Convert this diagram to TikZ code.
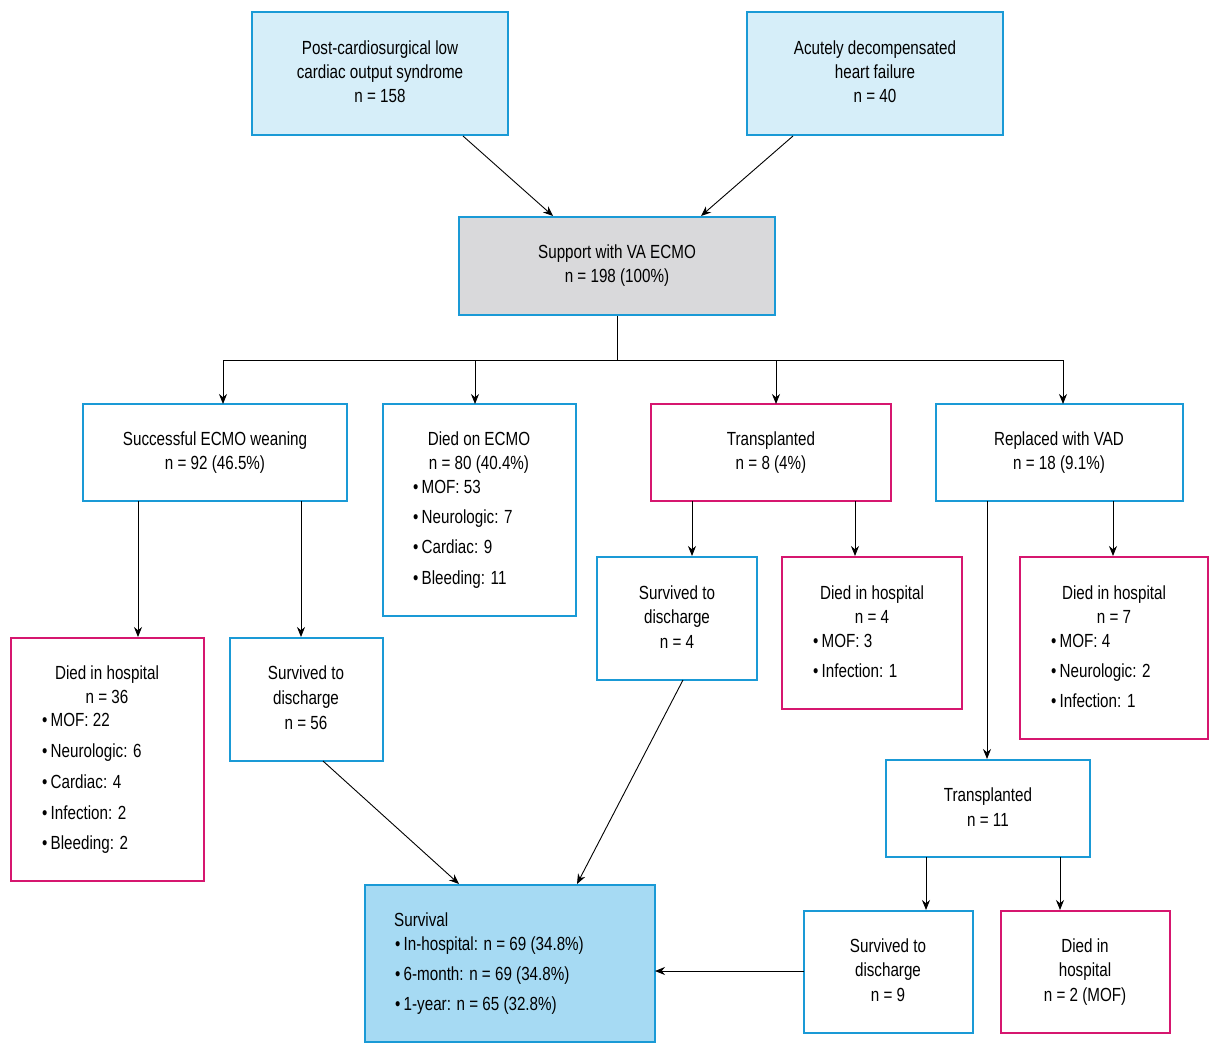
\documentclass[tikz,border=0pt]{standalone}
\usepackage{fontspec}
\setmainfont{Liberation Sans}
\usetikzlibrary{arrows.meta}
\definecolor{bl}{HTML}{1A9AD6}
\definecolor{mg}{HTML}{D6166F}
\definecolor{lb}{HTML}{D6EEF9}
\definecolor{gr}{HTML}{D9D9DB}
\definecolor{sb}{HTML}{A6DAF3}
\begin{document}
\begin{tikzpicture}[x=1pt,y=-1pt,
 box/.style={draw=bl,line width=2pt,inner sep=0},
 mbox/.style={draw=mg,line width=2pt,inner sep=0},
 t/.style={font=\fontsize{19}{22}\selectfont\addfontfeature{FakeStretch=0.8},inner sep=0,text height=13pt,text depth=4pt},
 arr/.style={line width=0.9pt,-{Stealth[length=10pt,width=8pt]}}]
\useasboundingbox (0,0) rectangle (1218,1059);
\newcommand\tc[3]{\node[t] at (#1,#2) {#3};}
\newcommand\tl[3]{\node[t,anchor=west] at (#1,#2) {\textbullet\,#3};}
% boxes
\draw[box,fill=lb] (252,12) rectangle (508,135) node[pos=0.5] (A) {};
\draw[box,fill=lb] (747,12) rectangle (1003,135) node[pos=0.5] (B) {};
\draw[box,fill=gr] (459,217) rectangle (775,315) node[pos=0.5] (C) {};
\draw[box] (83,404) rectangle (347,501) node[pos=0.5] (D1) {};
\draw[box] (383,404) rectangle (576,616) node[pos=0.5] (D2) {};
\draw[mbox] (651,404) rectangle (891,501) node[pos=0.5] (D3) {};
\draw[box] (936,404) rectangle (1183,501) node[pos=0.5] (D4) {};
\draw[mbox] (11,638) rectangle (204,881) node[pos=0.5] (E1) {};
\draw[box] (230,638) rectangle (383,761) node[pos=0.5] (E2) {};
\draw[box] (597,557) rectangle (757,680) node[pos=0.5] (E3) {};
\draw[mbox] (782,557) rectangle (962,709) node[pos=0.5] (E4) {};
\draw[mbox] (1020,557) rectangle (1208,739) node[pos=0.5] (E5) {};
\draw[box] (886,760) rectangle (1090,857) node[pos=0.5] (F) {};
\draw[box] (804,911) rectangle (973,1033) node[pos=0.5] (G1) {};
\draw[mbox] (1001,911) rectangle (1170,1033) node[pos=0.5] (G2) {};
\draw[box,fill=sb] (365,885) rectangle (655,1042) node[pos=0.5] (S) {};
% texts
\tc{380}{50}{Post-cardiosurgical low}\tc{380}{74}{cardiac output syndrome}\tc{380}{98}{n = 158}
\tc{875}{50}{Acutely decompensated}\tc{875}{74}{heart failure}\tc{875}{98}{n = 40}
\tc{617}{254}{Support with VA ECMO}\tc{617}{278}{n = 198 (100\%)}
\tc{215}{441}{Successful ECMO weaning}\tc{215}{465}{n = 92 (46.5\%)}
\tc{479}{441}{Died on ECMO}\tc{479}{465}{n = 80 (40.4\%)}
\tl{413}{489}{MOF: 53}\tl{413}{519}{Neurologic: 7}\tl{413}{549}{Cardiac: 9}\tl{413}{580}{Bleeding: 11}
\tc{771}{441}{Transplanted}\tc{771}{465}{n = 8 (4\%)}
\tc{1059}{441}{Replaced with VAD}\tc{1059}{465}{n = 18 (9.1\%)}
\tc{107}{675}{Died in hospital}\tc{107}{699}{n = 36}
\tl{42}{722}{MOF: 22}\tl{42}{753}{Neurologic: 6}\tl{42}{784}{Cardiac: 4}\tl{42}{815}{Infection: 2}\tl{42}{845}{Bleeding: 2}
\tc{306}{675}{Survived to}\tc{306}{700}{discharge}\tc{306}{725}{n = 56}
\tc{677}{595}{Survived to}\tc{677}{619}{discharge}\tc{677}{644}{n = 4}
\tc{872}{595}{Died in hospital}\tc{872}{619}{n = 4}
\tl{813}{643}{MOF: 3}\tl{813}{673}{Infection: 1}
\tc{1114}{595}{Died in hospital}\tc{1114}{619}{n = 7}
\tl{1051}{643}{MOF: 4}\tl{1051}{673}{Neurologic: 2}\tl{1051}{703}{Infection: 1}
\tc{988}{797}{Transplanted}\tc{988}{822}{n = 11}
\tc{888}{948}{Survived to}\tc{888}{972}{discharge}\tc{888}{997}{n = 9}
\tc{1085}{948}{Died in}\tc{1085}{972}{hospital}\tc{1085}{997}{n = 2 (MOF)}
\node[t,anchor=west] at (394,922) {Survival};
\tl{395}{946}{In-hospital: n = 69 (34.8\%)}\tl{395}{976}{6-month: n = 69 (34.8\%)}\tl{395}{1006}{1-year: n = 65 (32.8\%)}
% connectors
\draw[arr] (463,136) -- (553,216);
\draw[arr] (793,136) -- (701,216);
\draw[line width=0.9pt] (617,316) -- (617,360) (223,360) -- (1063,360);
\foreach \x in {223,475,776,1063} \draw[arr] (\x,360) -- (\x,404);
\draw[arr] (138,501) -- (138,637);
\draw[arr] (301,501) -- (301,637);
\draw[arr] (692,501) -- (692,556);
\draw[arr] (855,501) -- (855,556);
\draw[arr] (987,501) -- (987,759);
\draw[arr] (1113,501) -- (1113,556);
\draw[arr] (926,857) -- (926,910);
\draw[arr] (1060,857) -- (1060,910);
\draw[arr] (323,761) -- (459,884);
\draw[arr] (683,680) -- (577,884);
\draw[arr] (804,971) -- (655,971);
\end{tikzpicture}
\end{document}
